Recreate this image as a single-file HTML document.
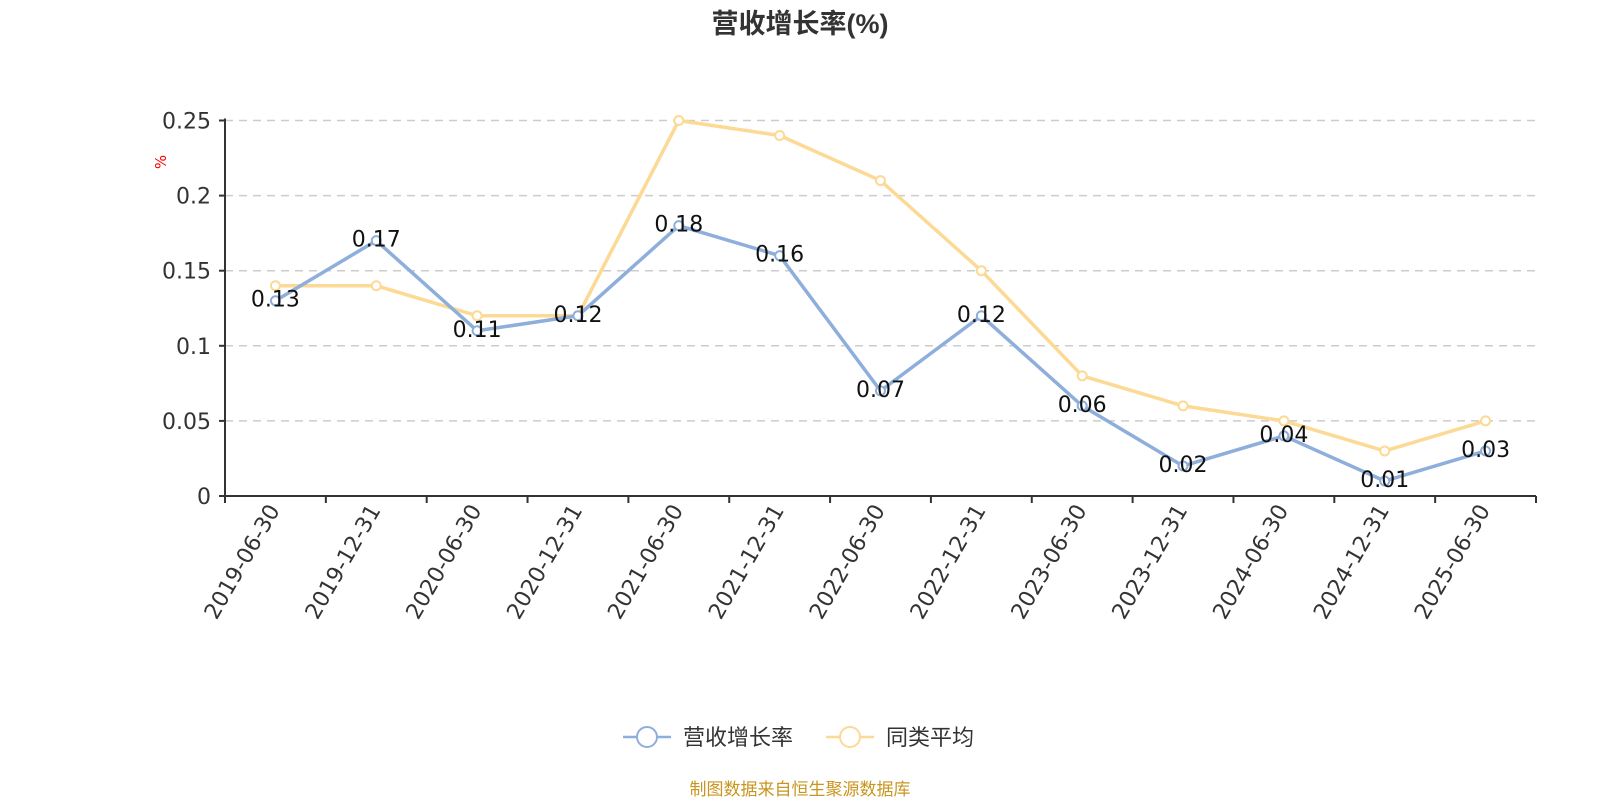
<!DOCTYPE html>
<html><head><meta charset="utf-8"><style>
body{margin:0;background:#fff;width:1600px;height:800px;overflow:hidden;font-family:"DejaVu Sans","Noto Sans CJK SC",sans-serif}
</style></head><body>
<svg id="c" width="1600" height="800" xmlns="http://www.w3.org/2000/svg" font-family="DejaVu Sans, Noto Sans CJK SC, sans-serif">
<text x="800" y="33" text-anchor="middle" font-size="27" font-weight="bold" fill="#333" font-family="Liberation Sans, Noto Sans CJK SC, sans-serif">营收增长率(%)</text>
<text transform="translate(166,162) rotate(-90)" text-anchor="middle" font-size="15" fill="red">%</text>
<g id="grid"></g><g id="series"></g>
<g>
<g>
<line x1="623" y1="737" x2="671" y2="737" stroke="#8eaedb" stroke-width="2.5"/><circle cx="647" cy="737" r="10" fill="#fff" stroke="#8eaedb" stroke-width="2"/>
<text x="683" y="745" font-size="22" fill="#333" font-family="Noto Sans CJK SC, sans-serif">营收增长率</text></g>
<g>
<line x1="826" y1="737" x2="874" y2="737" stroke="#fcd994" stroke-width="2.5"/><circle cx="850" cy="737" r="10" fill="#fff" stroke="#fcd994" stroke-width="2"/>
<text x="886" y="745" font-size="22" fill="#333" font-family="Noto Sans CJK SC, sans-serif">同类平均</text></g>
</g>
<text x="800" y="795" text-anchor="middle" font-size="17" fill="#c8961e" font-family="Noto Sans CJK SC, sans-serif">制图数据来自恒生聚源数据库</text>
</svg>
<script>
const categories=["2019-06-30","2019-12-31","2020-06-30","2020-12-31","2021-06-30","2021-12-31","2022-06-30","2022-12-31","2023-06-30","2023-12-31","2024-06-30","2024-12-31","2025-06-30"];
const revenueGrowth=[0.13,0.17,0.11,0.12,0.18,0.16,0.07,0.12,0.06,0.02,0.04,0.01,0.03];
const peerAverage=[0.14,0.14,0.12,0.12,0.25,0.24,0.21,0.15,0.08,0.06,0.05,0.03,0.05];
const yTicks=[0,0.05,0.1,0.15,0.2,0.25];
const yTickLabels=["0","0.05","0.1","0.15","0.2","0.25"];
const NS="http://www.w3.org/2000/svg";
const L=225,R=1536,T=120.5,B=496,yMax=0.25;
const bw=(R-L)/categories.length;
const xs=i=>L+bw*(i+0.5);
const ys=v=>B-(v/yMax)*(B-T);
function mk(tag,attrs,parent){const e=document.createElementNS(NS,tag);for(const k in attrs)e.setAttribute(k,attrs[k]);parent.appendChild(e);return e;}
const g=document.getElementById('grid'),s=document.getElementById('series');
yTicks.forEach((v,i)=>{
 if(v>0){const l=mk('line',{x1:L,x2:R,y1:ys(v),y2:ys(v),stroke:'#ccc','stroke-width':1.5,'stroke-dasharray':'8,6'},g);
 
 }
 const t=mk('line',{x1:L-6,x2:L,y1:ys(v),y2:ys(v),stroke:'#333','stroke-width':2},g);
 
 
 const tx=mk('text',{x:L-14,y:ys(v)+8,'text-anchor':'end','font-size':22,fill:'#333'},g);tx.textContent=yTickLabels[i];
 
 
});
const ya=mk('line',{x1:L,x2:L,y1:T-2,y2:B,stroke:'#333','stroke-width':2},g);


const xa=mk('line',{x1:L,x2:R,y1:B,y2:B,stroke:'#333','stroke-width':2},g);


for(let i=0;i<=categories.length;i++){const t=mk('line',{x1:L+bw*i,x2:L+bw*i,y1:B,y2:B+7,stroke:'#333','stroke-width':2},g);
 
 }
categories.forEach((c,i)=>{const t=mk('text',{transform:`translate(${xs(i)+5},${B+14}) rotate(-60)`,'text-anchor':'end','font-size':22,fill:'#333'},g);t.textContent=c;
 
 });
function series(data,color,name,labels){
 const p=mk('polyline',{points:data.map((v,i)=>xs(i)+','+ys(v)).join(' '),fill:'none',stroke:color,'stroke-width':3.5,'stroke-linejoin':'round'},s);
 
 
 data.forEach((v,i)=>{const c=mk('circle',{cx:xs(i),cy:ys(v),r:4.5,fill:'#fff',stroke:color,'stroke-width':2},s);
  
  });
 if(labels)data.forEach((v,i)=>{const t=mk('text',{x:xs(i),y:ys(v)+6,'text-anchor':'middle','font-size':22,fill:'#111'},s);t.textContent=String(v);
  
  });
}
series(peerAverage,'#fcd994','peer-average',false);
series(revenueGrowth,'#8eaedb','revenue-growth',true);
</script>
</body></html>
